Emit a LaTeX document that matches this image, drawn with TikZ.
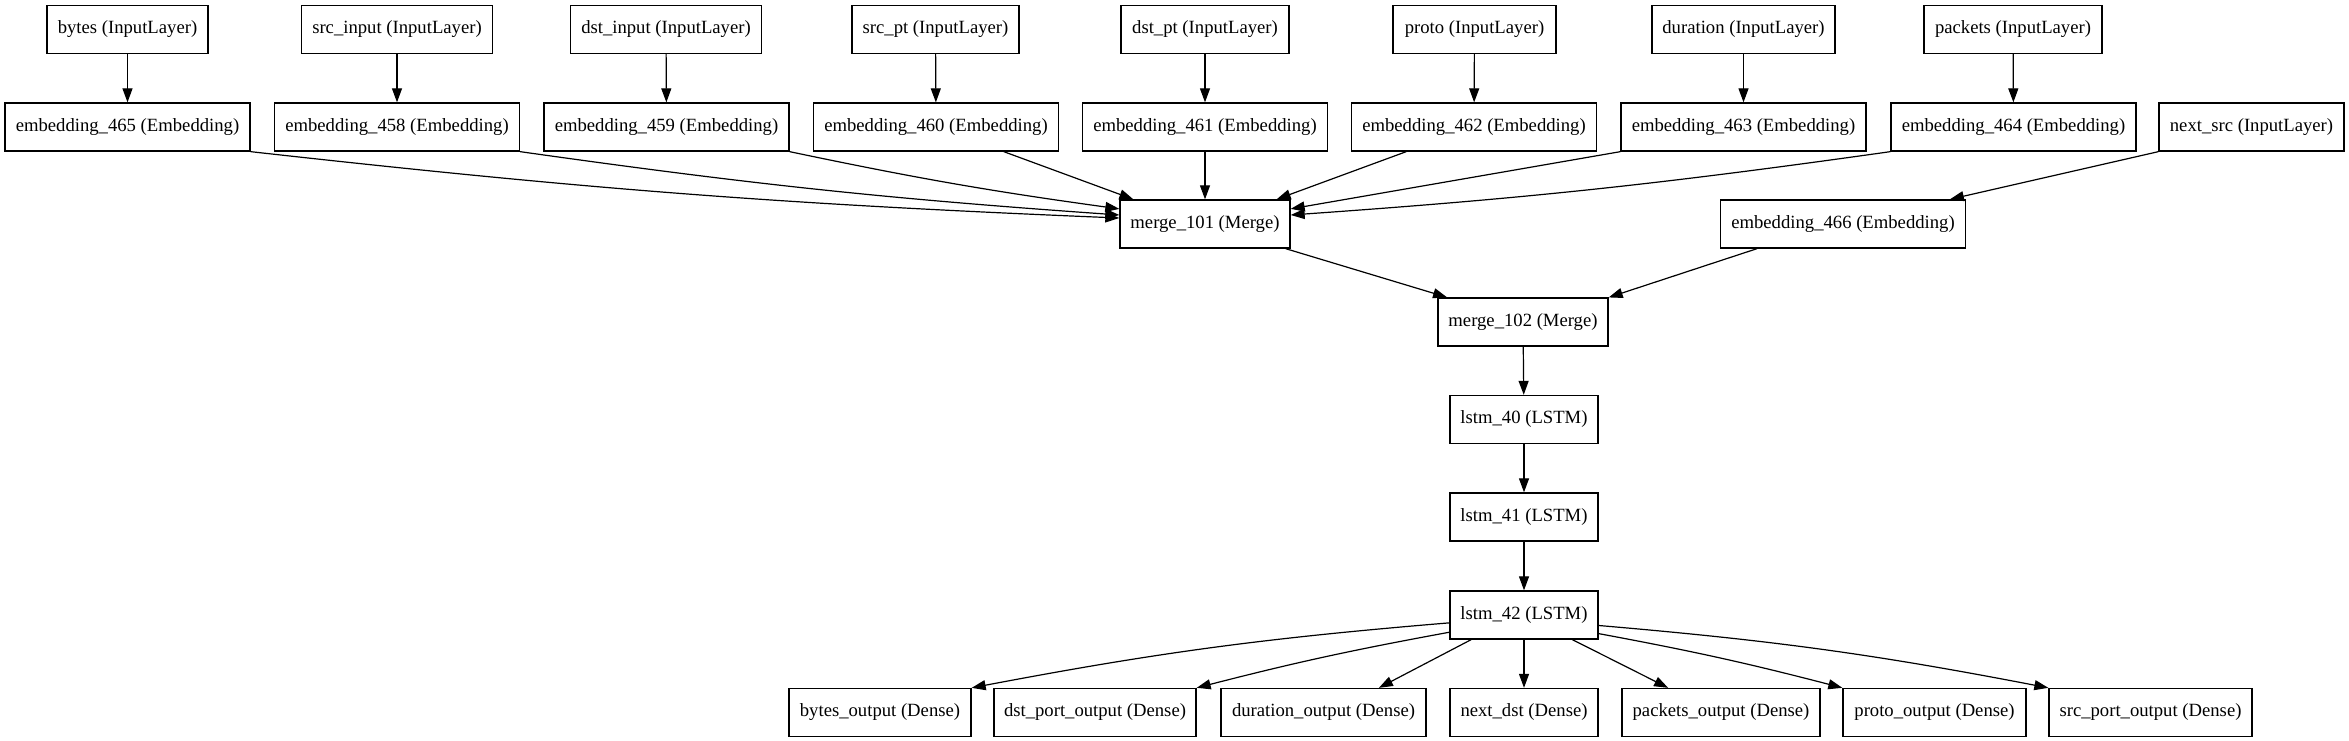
\documentclass[tikz,border=0pt]{standalone}
\usepackage{fontspec}
\setmainfont{Liberation Serif}
\usetikzlibrary{arrows.meta}
\tikzset{
  layer/.style={draw, line width=1pt, rectangle, minimum height=36pt, inner sep=0pt,
    font=\fontsize{14}{16}\selectfont, anchor=center},
  edge/.style={line width=0.9pt, -{Triangle[length=10.5pt,width=7.5pt]}}
}
\begin{document}
\begin{tikzpicture}[x=0.75pt,y=-0.75pt]
\useasboundingbox (0,0) rectangle (2349,741);
% input layers
\node[layer, minimum width=161*0.75pt] (bytes) at (127.5,29.5) {bytes (InputLayer)};
\node[layer, minimum width=191*0.75pt] (srcin) at (397,29.5) {src\_input (InputLayer)};
\node[layer, minimum width=191*0.75pt] (dstin) at (666,29.5) {dst\_input (InputLayer)};
\node[layer, minimum width=167*0.75pt] (srcpt) at (935.5,29.5) {src\_pt (InputLayer)};
\node[layer, minimum width=168*0.75pt] (dstpt) at (1205,29.5) {dst\_pt (InputLayer)};
\node[layer, minimum width=163*0.75pt] (proto) at (1474.5,29.5) {proto (InputLayer)};
\node[layer, minimum width=183*0.75pt] (dur) at (1743.5,29.5) {duration (InputLayer)};
\node[layer, minimum width=178*0.75pt] (pkts) at (2013,29.5) {packets (InputLayer)};
% embeddings
\node[layer, minimum width=245*0.75pt] (e465) at (127.5,127) {embedding\_465 (Embedding)};
\node[layer, minimum width=245*0.75pt] (e458) at (397,127) {embedding\_458 (Embedding)};
\node[layer, minimum width=245*0.75pt] (e459) at (666.5,127) {embedding\_459 (Embedding)};
\node[layer, minimum width=245*0.75pt] (e460) at (936,127) {embedding\_460 (Embedding)};
\node[layer, minimum width=245*0.75pt] (e461) at (1205,127) {embedding\_461 (Embedding)};
\node[layer, minimum width=245*0.75pt] (e462) at (1474,127) {embedding\_462 (Embedding)};
\node[layer, minimum width=245*0.75pt] (e463) at (1743.5,127) {embedding\_463 (Embedding)};
\node[layer, minimum width=245*0.75pt] (e464) at (2013.5,127) {embedding\_464 (Embedding)};
\node[layer, minimum width=185*0.75pt] (nsrc) at (2251.5,127) {next\_src (InputLayer)};
% merges
\node[layer, minimum width=170*0.75pt] (m101) at (1205,224) {merge\_101 (Merge)};
\node[layer, minimum width=245*0.75pt] (e466) at (1843,224) {embedding\_466 (Embedding)};
\node[layer, minimum width=170*0.75pt] (m102) at (1523,322) {merge\_102 (Merge)};
% lstms
\node[layer, minimum width=148*0.75pt] (l40) at (1524,419.5) {lstm\_40 (LSTM)};
\node[layer, minimum width=148*0.75pt] (l41) at (1524,517) {lstm\_41 (LSTM)};
\node[layer, minimum width=148*0.75pt] (l42) at (1524,615) {lstm\_42 (LSTM)};
% outputs
\node[layer, minimum width=182*0.75pt] (obytes) at (880,712.5) {bytes\_output (Dense)};
\node[layer, minimum width=202*0.75pt] (odst) at (1095,712.5) {dst\_port\_output (Dense)};
\node[layer, minimum width=205*0.75pt] (odur) at (1323.5,712.5) {duration\_output (Dense)};
\node[layer, minimum width=148*0.75pt] (onext) at (1524,712.5) {next\_dst (Dense)};
\node[layer, minimum width=198*0.75pt] (opkts) at (1721,712.5) {packets\_output (Dense)};
\node[layer, minimum width=183*0.75pt] (oproto) at (1934.5,712.5) {proto\_output (Dense)};
\node[layer, minimum width=203*0.75pt] (osrc) at (2150.5,712.5) {src\_port\_output (Dense)};
% input -> embedding
\draw[edge] (bytes) -- (e465);
\draw[edge] (srcin) -- (e458);
\draw[edge] (dstin) -- (e459);
\draw[edge] (srcpt) -- (e460);
\draw[edge] (dstpt) -- (e461);
\draw[edge] (proto) -- (e462);
\draw[edge] (dur) -- (e463);
\draw[edge] (pkts) -- (e464);
% embeddings -> merge_101
\draw[edge] (e465.south east) to[bend right=2] (m101.176);
\draw[edge] (e458.south east) to[bend right=2] (m101.174);
\draw[edge] (e459.south east) to[bend right=2] (m101.170.6);
\draw[edge] (e460.-20.6) -- (m101.161);
\draw[edge] (e461) -- (m101);
\draw[edge] (e462.200.3) -- (m101.19.7);
\draw[edge] (e463.south west) -- (m101.10.7);
\draw[edge] (e464.south west) to[bend left=2] (m101.6.7);
\draw[edge] (nsrc.south west) -- (e466.13.4);
% merges
\draw[edge] (m101.-17.3) -- (m102.162.9);
\draw[edge] (e466.196.9) -- (m102.16.4);
\draw[edge] (m102) -- (l40);
\draw[edge] (l40) -- (l41);
\draw[edge] (l41) -- (l42);
% outputs
\draw[edge] (l42.186.9) to[bend right=3] (obytes.north east);
\draw[edge] (l42.193.7) to[bend right=2] (odst.north east);
\draw[edge] (l42.205.6) -- (odur.24.2);
\draw[edge] (l42) -- (onext);
\draw[edge] (l42.-27) -- (opkts.155.2);
\draw[edge] (l42.-14.4) to[bend left=2] (oproto.north west);
\draw[edge] (l42.-8.1) to[bend left=3] (osrc.north west);
\end{tikzpicture}
\end{document}
